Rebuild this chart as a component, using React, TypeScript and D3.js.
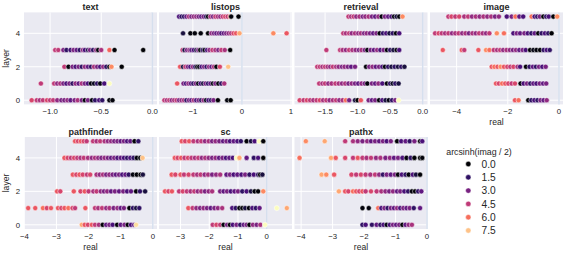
import React from "react";
import * as d3 from "d3";

const PANELS = ["text", "listops", "retrieval", "image", "pathfinder", "sc", "pathx"];
const Y_TICKS = [0, 2, 4];
const X_TICKS = [
  [-1.0, -0.5, 0.0],
  [-1, 0, 1],
  [-1.5, -1.0, -0.5, 0.0],
  [-4, -2, 0],
  [-4, -3, -2, -1, 0],
  [-3, -2, -1, 0],
  [-4, -3, -2, -1, 0],
];
const X_DECIMALS = [1, 0, 1, 0, 0, 0, 0];
const X_DOMAINS = [
  [-1.255, 0.045],
  [-1.69, 1.02],
  [-1.97, 0.074],
  [-5.04, 0.156],
  [-4.01, 0.13],
  [-3.75, 0.88],
  [-4.21, 0.016],
];
const LEGEND_VALUES = [0.0, 1.5, 3.0, 4.5, 6.0, 7.5];
const HUE_MAX = 8.6;

// rows indexed by layer (0..5); each entry [real, arcsinh(imag/2)]
const TEXT: number[][][] = [
  [[-1.18, 5.0], [-1.13, 4.5], [-1.1, 4.0], [-1.07, 4.5], [-1.03, 5.0], [-1.0, 4.5], [-0.97, 4.5], [-0.93, 3.5], [-0.89, 3.0], [-0.86, 3.0], [-0.83, 3.5], [-0.8, 2.5], [-0.76, 3.0], [-0.73, 4.0], [-0.69, 3.0], [-0.66, 0.2], [-0.63, 3.0], [-0.59, 0.2], [-0.56, 1.5], [-0.52, 2.0], [-0.49, 1.5], [-0.42, 0.2], [-0.39, 0.2]],
  [[-1.09, 4.5], [-0.96, 4.5], [-0.93, 3.5], [-0.9, 4.0], [-0.87, 3.0], [-0.84, 2.0], [-0.81, 3.0], [-0.78, 1.5], [-0.75, 3.5], [-0.72, 2.5], [-0.69, 4.0], [-0.66, 3.0], [-0.63, 2.0], [-0.6, 0.2], [-0.57, 0.5], [-0.54, 1.5], [-0.51, 0.2], [-0.47, 2.0], [-0.42, 8.6]],
  [[-0.86, 4.5], [-0.82, 0.2], [-0.78, 3.0], [-0.75, 2.0], [-0.72, 3.0], [-0.69, 1.5], [-0.66, 3.5], [-0.63, 2.5], [-0.6, 1.5], [-0.57, 4.0], [-0.54, 3.0], [-0.51, 2.0], [-0.48, 3.5], [-0.45, 1.5], [-0.42, 0.2], [-0.4, 6.5], [-0.3, 0.1]],
  [[-0.95, 4.5], [-0.92, 4.5], [-0.87, 3.0], [-0.84, 1.5], [-0.8, 1.8], [-0.77, 3.0], [-0.74, 2.5], [-0.71, 1.5], [-0.68, 3.5], [-0.66, 2.0], [-0.63, 1.2], [-0.61, 3.0], [-0.58, 1.5], [-0.55, 3.5], [-0.53, 0.2], [-0.5, 4.0], [-0.42, 5.8], [-0.37, 0.1], [-0.09, 0.1]],
  [],
  [],
];

const LISTOPS: number[][][] = [
  [[-1.58, 4.5], [-1.53, 4.0], [-1.48, 4.5], [-1.43, 3.5], [-1.38, 4.0], [-1.33, 4.5], [-1.28, 3.0], [-1.23, 3.5], [-1.18, 4.0], [-1.13, 1.5], [-1.08, 3.0], [-1.03, 2.5], [-0.98, 4.0], [-0.93, 2.0], [-0.88, 3.0], [-0.83, 1.5], [-0.78, 3.5], [-0.73, 0.5], [-0.68, 2.0], [-0.63, 1.5], [-0.58, 3.0], [-0.49, 0.1], [-0.3, 0.2], [-0.23, 0.1]],
  [[-1.32, 5.5], [-1.19, 3.0], [-1.14, 2.0], [-1.09, 3.5], [-1.04, 2.5], [-0.99, 1.5], [-0.94, 3.0], [-0.89, 0.3], [-0.84, 2.0], [-0.79, 1.0], [-0.74, 3.0], [-0.69, 1.5], [-0.64, 2.5], [-0.59, 0.3], [-0.54, 3.0], [-0.48, 0.2], [-0.42, 1.5], [-0.36, 4.0]],
  [[-1.26, 5.5], [-1.2, 1.0], [-1.15, 4.5], [-1.1, 3.0], [-1.05, 2.0], [-1.0, 3.5], [-0.95, 1.5], [-0.91, 0.2], [-0.87, 0.3], [-0.82, 2.0], [-0.77, 3.0], [-0.72, 1.5], [-0.67, 3.5], [-0.62, 2.5], [-0.57, 4.0], [-0.52, 0.2], [-0.45, 5.0], [-0.28, 7.5]],
  [[-1.21, 4.5], [-1.17, 1.0], [-1.12, 3.0], [-1.07, 3.5], [-1.03, 2.5], [-0.98, 2.0], [-0.93, 1.0], [-0.89, 3.0], [-0.85, 0.2], [-0.8, 1.5], [-0.76, 0.3], [-0.71, 2.0], [-0.66, 3.5], [-0.6, 4.5], [-0.54, 4.0], [-0.48, 3.0], [-0.42, 4.5], [-0.35, 4.0], [-0.24, 0.1]],
  [[-1.2, 1.0], [-1.05, 0.2], [-0.96, 0.2], [-0.84, 0.2], [-0.69, 0.1], [-0.62, 3.5], [-0.57, 3.0], [-0.52, 2.5], [-0.47, 3.0], [-0.42, 2.0], [-0.37, 2.5], [-0.32, 3.0], [-0.27, 3.5], [-0.22, 4.0], [-0.17, 5.0], [-0.12, 5.5], [-0.05, 7.0], [0.64, 6.5], [0.91, 5.5]],
  [[-1.28, 2.0], [-1.23, 1.5], [-1.18, 1.5], [-1.13, 2.5], [-1.08, 4.0], [-1.03, 3.0], [-0.98, 3.5], [-0.93, 3.5], [-0.88, 3.0], [-0.83, 2.5], [-0.78, 3.0], [-0.73, 1.5], [-0.69, 0.2], [-0.64, 4.0], [-0.59, 3.0], [-0.54, 4.5], [-0.49, 4.0], [-0.44, 3.5], [-0.39, 4.5], [-0.34, 5.0], [-0.29, 4.5], [-0.24, 6.0], [-0.22, 0.2], [-0.07, 0.1]],
];

const RETRIEVAL: number[][][] = [
  [[-1.89, 5.0], [-1.83, 4.5], [-1.78, 5.0], [-1.73, 4.5], [-1.68, 4.0], [-1.63, 4.5], [-1.58, 5.0], [-1.53, 4.0], [-1.48, 4.5], [-1.43, 3.5], [-1.38, 4.0], [-1.33, 4.5], [-1.28, 3.5], [-1.23, 4.0], [-1.18, 6.0], [-1.13, 3.0], [-1.04, 1.0], [-1.0, 0.1], [-0.95, 5.5], [-0.83, 3.0], [-0.78, 2.5], [-0.73, 3.0], [-0.67, 0.2], [-0.62, 2.0], [-0.57, 1.0], [-0.52, 0.3], [-0.47, 1.5], [-0.42, 3.0], [-0.37, 8.6]],
  [[-1.59, 4.5], [-1.54, 4.0], [-1.5, 4.5], [-1.45, 3.5], [-1.4, 4.0], [-1.34, 4.5], [-1.29, 4.0], [-1.24, 3.5], [-1.19, 4.0], [-1.14, 3.0], [-1.09, 3.5], [-1.04, 3.0], [-0.99, 2.5], [-0.94, 3.5], [-0.89, 3.0], [-0.85, 0.2], [-0.78, 3.0], [-0.73, 2.5], [-0.68, 3.5], [-0.62, 2.0], [-0.55, 0.2], [-0.5, 1.5], [-0.46, 0.5], [-0.42, 1.5], [-0.37, 1.0]],
  [[-1.62, 4.5], [-1.58, 4.5], [-1.54, 4.0], [-1.5, 4.5], [-1.46, 4.0], [-1.42, 3.5], [-1.38, 4.5], [-1.33, 4.0], [-1.29, 3.5], [-1.24, 3.0], [-1.2, 3.5], [-1.15, 3.0], [-1.1, 2.5], [-1.04, 3.0], [-0.87, 0.2], [-0.82, 3.0], [-0.77, 3.5], [-0.72, 2.5], [-0.67, 3.0], [-0.62, 2.0], [-0.58, 0.2], [-0.53, 1.5], [-0.48, 1.0], [-0.43, 1.5], [-0.38, 1.0], [-0.33, 1.5], [-0.28, 1.0]],
  [[-1.48, 4.5], [-1.27, 4.5], [-1.23, 4.0], [-1.18, 3.5], [-1.13, 4.5], [-1.08, 4.0], [-1.03, 3.5], [-0.98, 3.0], [-0.94, 4.0], [-0.89, 3.0], [-0.85, 0.2], [-0.8, 3.0], [-0.75, 2.5], [-0.7, 3.5], [-0.65, 2.0], [-0.6, 3.0], [-0.55, 0.2], [-0.5, 1.5], [-0.45, 1.0], [-0.4, 0.2], [-0.36, 2.0]],
  [[-1.22, 4.5], [-1.18, 4.0], [-1.13, 4.5], [-1.09, 3.5], [-1.04, 4.0], [-0.99, 3.5], [-0.95, 4.0], [-0.9, 3.0], [-0.86, 3.5], [-0.81, 3.0], [-0.76, 2.5], [-0.71, 3.0], [-0.66, 0.2], [-0.61, 1.5], [-0.56, 2.0], [-0.51, 1.0], [-0.46, 1.5], [-0.41, 0.2], [-0.36, 2.0]],
  [[-1.14, 4.5], [-1.1, 4.0], [-1.06, 4.5], [-1.02, 3.5], [-0.97, 4.0], [-0.92, 3.0], [-0.88, 3.5], [-0.83, 4.0], [-0.78, 3.0], [-0.73, 2.5], [-0.68, 3.5], [-0.63, 0.2], [-0.58, 3.0], [-0.53, 2.5], [-0.48, 2.0], [-0.44, 0.3], [-0.4, 1.0], [-0.36, 0.2], [-0.31, 6.5]],
];

const IMAGE: number[][][] = [
  [[-1.72, 5.5], [-1.58, 6.0], [-1.2, 0.1], [-1.08, 1.5], [-0.96, 2.0], [-0.84, 1.5], [-0.72, 3.0], [-0.6, 2.5], [-0.48, 3.5]],
  [[-2.46, 5.5], [-2.35, 5.0], [-2.22, 6.0], [-2.1, 5.5], [-1.98, 5.0], [-1.85, 4.5], [-1.72, 5.0], [-1.5, 0.2], [-1.38, 2.0], [-1.25, 3.0], [-1.12, 1.5], [-1.0, 2.5], [-0.88, 2.0], [-0.75, 3.0], [-0.62, 2.5], [-0.5, 3.0]],
  [[-2.63, 5.5], [-2.52, 6.0], [-2.4, 5.5], [-2.28, 6.5], [-2.15, 5.5], [-2.02, 5.0], [-1.9, 4.5], [-1.78, 5.0], [-1.62, 4.0], [-1.52, 2.0], [-1.29, 0.1], [-1.15, 1.5], [-1.02, 2.5], [-0.9, 1.5], [-0.78, 3.0], [-0.65, 2.0], [-0.52, 3.0]],
  [[-4.54, 5.5], [-3.8, 5.5], [-3.7, 4.5], [-3.15, 5.5], [-2.85, 6.5], [-2.72, 6.0], [-2.55, 4.5], [-2.42, 4.0], [-2.3, 4.5], [-2.18, 3.5], [-2.05, 4.0], [-1.92, 3.5], [-1.8, 3.0], [-1.68, 3.5], [-1.55, 2.5], [-1.42, 3.0], [-1.3, 2.0], [-1.13, 0.1], [-1.0, 0.3], [-0.88, 0.2], [-0.74, 0.1], [-0.6, 1.5], [-0.48, 2.0], [-0.36, 1.5]],
  [[-4.84, 4.5], [-4.7, 5.0], [-4.58, 4.5], [-4.45, 4.0], [-4.32, 4.5], [-4.18, 3.5], [-4.05, 4.0], [-3.92, 4.5], [-3.78, 3.5], [-3.65, 4.0], [-3.52, 3.0], [-3.38, 4.0], [-3.25, 3.5], [-3.12, 4.5], [-2.98, 4.0], [-2.85, 3.5], [-2.72, 4.5], [-2.43, 6.5], [-2.15, 6.0], [-1.78, 2.0], [-1.65, 3.0], [-1.52, 2.5], [-1.35, 3.0], [-1.22, 2.0], [-1.08, 1.5], [-0.95, 2.5], [-0.81, 0.1], [-0.68, 1.5], [-0.55, 2.0], [-0.42, 1.5], [-0.29, 0.1]],
  [[-4.32, 4.5], [-4.2, 5.0], [-4.05, 4.5], [-3.9, 5.0], [-3.7, 4.0], [-3.55, 4.5], [-3.4, 3.5], [-3.25, 4.0], [-3.1, 3.5], [-2.95, 4.0], [-2.8, 3.5], [-2.65, 4.0], [-2.5, 3.0], [-2.35, 3.5], [-2.04, 2.0], [-1.85, 3.0], [-1.7, 6.0], [-1.55, 2.5], [-1.4, 2.0], [-1.07, 6.0], [-0.95, 2.0], [-0.85, 1.5], [-0.75, 3.0], [-0.61, 0.1], [-0.5, 1.5], [-0.4, 2.0], [-0.22, 0.1], [-0.07, 6.5]],
];

const PATHFINDER: number[][][] = [
  [[-2.21, 7.0], [-2.12, 5.5], [-2.02, 5.0], [-1.9, 5.5], [-1.8, 4.5], [-1.68, 4.0], [-1.56, 0.1], [-1.45, 2.5], [-1.35, 3.0], [-1.25, 2.0], [-1.11, 0.1], [-1.0, 2.5], [-0.88, 3.0], [-0.78, 0.1], [-0.68, 2.0], [-0.58, 2.5], [-0.52, 8.0]],
  [[-3.88, 5.5], [-3.66, 5.5], [-3.42, 6.0], [-3.3, 5.0], [-3.17, 5.5], [-2.95, 5.5], [-2.85, 5.0], [-2.75, 5.5], [-2.63, 6.0], [-2.5, 5.0], [-2.42, 4.5], [-2.1, 5.5], [-1.8, 4.5], [-1.7, 4.0], [-1.58, 4.5], [-1.45, 3.5], [-1.35, 4.0], [-1.22, 3.0], [-1.1, 3.5], [-1.0, 2.5], [-0.9, 3.0], [-0.73, 0.1], [-0.62, 1.5], [-0.52, 1.0], [-0.42, 1.5]],
  [[-2.98, 5.5], [-2.88, 5.0], [-2.46, 5.5], [-2.25, 5.0], [-2.12, 5.5], [-2.0, 4.5], [-1.85, 4.0], [-1.75, 4.5], [-1.62, 3.5], [-1.52, 3.0], [-1.42, 3.5], [-1.3, 2.5], [-1.18, 3.0], [-1.05, 2.5], [-0.92, 3.0], [-0.8, 2.0], [-0.68, 2.5], [-0.52, 0.1], [-0.4, 1.5], [-0.24, 1.0]],
  [[-2.49, 5.5], [-2.38, 5.0], [-2.28, 5.5], [-2.18, 5.0], [-2.05, 4.5], [-1.95, 5.0], [-1.75, 4.0], [-1.65, 3.5], [-1.55, 4.0], [-1.45, 3.0], [-1.35, 3.5], [-1.25, 3.0], [-1.15, 2.5], [-1.05, 3.0], [-0.95, 2.0], [-0.85, 2.5], [-0.75, 1.5], [-0.62, 0.2], [-0.5, 0.1], [-0.38, 0.1], [-0.31, 1.0]],
  [[-2.75, 5.5], [-2.65, 5.0], [-2.55, 4.5], [-2.45, 5.0], [-2.35, 4.5], [-2.25, 4.0], [-2.15, 4.5], [-2.02, 4.0], [-1.9, 3.5], [-1.8, 4.0], [-1.7, 3.5], [-1.6, 3.0], [-1.5, 3.5], [-1.4, 3.0], [-1.3, 2.5], [-1.2, 3.0], [-1.1, 2.0], [-1.0, 2.5], [-0.9, 2.0], [-0.8, 1.5], [-0.7, 2.0], [-0.6, 1.5], [-0.5, 0.2], [-0.39, 0.1], [-0.32, 7.5]],
  [[-2.42, 5.5], [-2.33, 5.0], [-2.24, 5.5], [-2.15, 5.0], [-2.06, 4.5], [-1.86, 4.5], [-1.75, 4.0], [-1.64, 4.5], [-1.5, 4.0], [-1.4, 3.5], [-1.3, 3.5], [-1.2, 3.0], [-1.1, 3.0], [-1.0, 2.5], [-0.9, 3.0], [-0.8, 2.0], [-0.7, 2.5], [-0.57, 0.1], [-0.45, 1.5]],
];

const SC: number[][][] = [
  [[-1.88, 4.5], [-1.75, 5.0], [-1.62, 4.5], [-1.5, 0.2], [-1.38, 3.0], [-1.28, 0.1], [-1.18, 2.0], [-1.05, 3.0], [-0.92, 1.5], [-0.8, 2.5], [-0.7, 3.0], [-0.6, 0.1], [-0.48, 3.5], [-0.35, 3.0], [-0.22, 4.0], [-0.06, 8.6]],
  [[-2.73, 5.5], [-2.58, 4.5], [-2.45, 3.5], [-2.32, 3.0], [-2.2, 3.5], [-2.08, 3.0], [-1.95, 2.5], [-1.82, 3.0], [-1.7, 3.5], [-1.55, 4.0], [-1.2, 2.0], [-1.08, 1.5], [-0.95, 0.2], [-0.85, 0.1], [-0.75, 1.0], [-0.62, 0.2], [-0.5, 2.0], [-0.38, 1.5], [-0.25, 2.5], [0.35, 8.6], [0.7, 7.0]],
  [[-3.54, 5.5], [-3.42, 5.0], [-3.3, 5.5], [-3.05, 4.5], [-2.92, 5.0], [-2.78, 4.5], [-2.65, 4.0], [-2.52, 4.5], [-2.4, 3.5], [-2.28, 4.0], [-2.15, 3.0], [-2.02, 3.5], [-1.9, 4.0], [-1.62, 3.0], [-1.5, 2.5], [-1.38, 3.0], [-1.25, 2.0], [-1.12, 2.5], [-1.0, 3.0], [-0.85, 1.5], [-0.7, 2.0], [-0.55, 1.0], [-0.42, 0.2], [-0.3, 0.1], [-0.12, 6.5]],
  [[-3.31, 5.5], [-3.18, 5.0], [-3.0, 5.5], [-2.88, 4.5], [-2.72, 5.0], [-2.55, 4.5], [-2.42, 4.0], [-2.3, 4.5], [-2.16, 3.5], [-2.04, 4.0], [-1.9, 3.0], [-1.76, 3.5], [-1.62, 4.0], [-1.4, 2.5], [-1.28, 3.0], [-1.15, 2.0], [-1.02, 2.5], [-0.88, 2.0], [-0.75, 3.0], [-0.6, 1.5], [-0.45, 2.0], [-0.3, 1.5], [-0.23, 0.1], [-0.15, 1.0]],
  [[-3.2, 5.5], [-3.1, 5.0], [-2.98, 5.5], [-2.86, 4.5], [-2.74, 5.0], [-2.62, 4.5], [-2.5, 4.0], [-2.38, 4.5], [-2.26, 3.5], [-2.14, 4.0], [-2.02, 3.5], [-1.9, 3.0], [-1.78, 3.5], [-1.66, 2.5], [-1.54, 3.0], [-1.42, 2.0], [-1.3, 2.5], [-1.18, 2.0], [-1.05, 8.6], [-0.95, 7.0], [-0.7, 2.5], [-0.45, 1.5], [-0.3, 2.0], [-0.12, 0.1]],
  [[-2.96, 5.5], [-2.84, 5.0], [-2.7, 5.5], [-2.55, 4.5], [-2.4, 4.0], [-2.28, 4.5], [-2.15, 3.5], [-2.02, 4.0], [-1.9, 3.0], [-1.78, 3.5], [-1.65, 3.0], [-1.52, 2.5], [-1.4, 3.0], [-1.28, 2.0], [-1.15, 2.5], [-1.02, 2.0], [-0.9, 1.5], [-0.7, 0.1], [-0.55, 1.0], [-0.42, 2.0], [-0.26, 8.6], [-0.12, 0.1]],
];

const PATHX: number[][][] = [
  [[-2.05, 1.5], [-1.95, 2.0], [-1.75, 1.5], [-1.6, 2.5], [-1.48, 1.5], [-1.38, 2.0], [-1.28, 0.3], [-1.18, 2.0], [-1.08, 3.0], [-0.98, 2.5], [-0.88, 3.0], [-0.78, 0.1], [-0.68, 2.5], [-0.58, 3.5], [-0.48, 4.0]],
  [[-4.5, 6.5], [-2.05, 0.2], [-1.85, 0.2], [-1.55, 6.0], [-1.45, 2.0], [-1.35, 3.0], [-1.25, 1.5], [-1.15, 3.0], [-1.05, 2.5], [-0.95, 3.5], [-0.85, 2.0], [-0.75, 3.0], [-0.65, 2.5], [-0.55, 3.0], [-0.42, 1.5], [-0.22, 2.5]],
  [[-2.8, 7.0], [-2.6, 5.5], [-2.5, 5.0], [-2.35, 6.0], [-2.25, 5.5], [-2.15, 5.0], [-2.05, 5.5], [-1.95, 4.5], [-1.78, 5.0], [-1.6, 4.5], [-1.45, 4.0], [-1.32, 3.5], [-1.2, 3.0], [-1.08, 3.5], [-0.95, 2.5], [-0.85, 3.0], [-0.72, 2.0], [-0.6, 1.5], [-0.48, 0.2], [-0.38, 0.1], [-0.28, 1.5], [-0.18, 2.5]],
  [[-3.35, 7.0], [-3.2, 6.5], [-2.95, 5.5], [-2.4, 5.0], [-2.25, 4.5], [-2.1, 5.0], [-1.95, 4.5], [-1.8, 4.0], [-1.65, 4.5], [-1.52, 3.5], [-1.4, 1.5], [-1.28, 3.0], [-1.15, 2.5], [-1.02, 3.0], [-0.92, 0.1], [-0.8, 2.0], [-0.68, 1.5], [-0.58, 0.2], [-0.45, 2.0], [-0.35, 1.0], [-0.22, 0.1]],
  [[-4.05, 6.0], [-3.05, 7.0], [-2.9, 5.5], [-2.6, 5.0], [-2.35, 4.5], [-2.2, 5.5], [-2.05, 4.5], [-1.92, 4.0], [-1.78, 4.5], [-1.62, 3.5], [-1.48, 4.0], [-1.32, 3.0], [-1.18, 3.5], [-1.05, 2.5], [-0.92, 3.0], [-0.78, 2.0], [-0.65, 0.2], [-0.52, 1.5], [-0.4, 0.1], [-0.22, 0.1], [-0.15, 0.2]],
  [[-3.85, 6.5], [-3.25, 7.0], [-2.6, 4.5], [-2.35, 4.0], [-2.2, 3.5], [-2.05, 3.0], [-1.9, 3.5], [-1.78, 2.5], [-1.65, 3.0], [-1.52, 2.5], [-1.4, 3.0], [-1.28, 2.0], [-1.15, 3.0], [-0.95, 0.1], [-0.82, 2.0], [-0.68, 2.5], [-0.55, 1.5], [-0.4, 3.0], [-0.22, 0.1], [-0.15, 2.0]],
];

const PANEL_DATA = [TEXT, LISTOPS, RETRIEVAL, IMAGE, PATHFINDER, SC, PATHX];

const W = 568;
const H = 255;
const COL_LEFT = [24, 159, 294.5, 430];
const ROW_TOP = [12.4, 137];
const PW = 133;
const PH = 92;
const FONT = "'Liberation Sans', Arial, Helvetica, sans-serif";

const color = (v: number) => d3.interpolateMagma(Math.max(0, Math.min(1, v / HUE_MAX)));

export default function App() {
  const yScale = (row: number) =>
    d3.scaleLinear().domain([-0.25, 5.25]).range([ROW_TOP[row] + PH, ROW_TOP[row]]);

  return (
    <svg width={W} height={H} style={{ position: "absolute", left: 0, top: 0, background: "#fff" }} fontFamily={FONT}>
      {PANELS.map((name, i) => {
        const row = i < 4 ? 0 : 1;
        const col = i % 4;
        const x0 = COL_LEFT[col];
        const y0 = ROW_TOP[row];
        const x = d3.scaleLinear().domain(X_DOMAINS[i]).range([x0, x0 + PW]);
        const y = yScale(row);
        const fmt = d3.format(`.${X_DECIMALS[i]}f`);
        const showXLabel = i >= 3;
        const clipId = `clip-${i}`;
        return (
          <g key={name}>
            <defs>
              <clipPath id={clipId}>
                <rect x={x0} y={y0} width={PW} height={PH} />
              </clipPath>
            </defs>
            <rect x={x0} y={y0} width={PW} height={PH} fill="#eaeaf2" />
            {X_TICKS[i].map((t) => (
              <line key={`gx${t}`} x1={x(t)} x2={x(t)} y1={y0} y2={y0 + PH} stroke="#fff" strokeWidth={1} />
            ))}
            {Y_TICKS.map((t) => (
              <line key={`gy${t}`} x1={x0} x2={x0 + PW} y1={y(t)} y2={y(t)} stroke="#fff" strokeWidth={1} />
            ))}
            <line x1={x(0)} x2={x(0)} y1={y0} y2={y0 + PH} stroke="#d6dfee" strokeWidth={1.5} />
            <g clipPath={`url(#${clipId})`}>
              {PANEL_DATA[i].map((pts, layer) =>
                pts.map((p, k) => (
                  <circle
                    key={`${layer}-${k}`}
                    cx={x(p[0])}
                    cy={y(layer)}
                    r={2.55}
                    fill={color(p[1])}
                    stroke="#fff"
                    strokeWidth={0.5}
                  />
                ))
              )}
            </g>
            {X_TICKS[i].map((t) => (
              <text key={`tx${t}`} x={x(t)} y={y0 + PH + 10} fontSize={7.8} textAnchor="middle" fill="#262626">
                {fmt(t)}
              </text>
            ))}
            {col === 0 &&
              Y_TICKS.map((t) => (
                <text key={`ty${t}`} x={x0 - 4} y={y(t) + 2.8} fontSize={7.8} textAnchor="end" fill="#262626">
                  {t}
                </text>
              ))}
            {col === 0 && (
              <text
                transform={`translate(${x0 - 15},${y0 + PH / 2}) rotate(-90)`}
                fontSize={8.6}
                textAnchor="middle"
                fill="#262626"
              >
                layer
              </text>
            )}
            {showXLabel && (
              <text x={x0 + PW / 2} y={y0 + PH + 20.5} fontSize={8.6} textAnchor="middle" fill="#262626">
                real
              </text>
            )}
            <text x={x0 + PW / 2} y={y0 - 2.5} fontSize={9} fontWeight="bold" textAnchor="middle" fill="#262626">
              {name}
            </text>
          </g>
        );
      })}
      <g>
        <text x={479} y={154.8} fontSize={8.8} textAnchor="middle" fill="#262626">
          arcsinh(imag / 2)
        </text>
        {LEGEND_VALUES.map((v, k) => {
          const cy = 164 + k * 13.3;
          return (
            <g key={v}>
              <circle cx={468.3} cy={cy} r={2.7} fill={color(v)} stroke="#fff" strokeWidth={0.5} />
              <text x={481.5} y={cy + 3.6} fontSize={10.2} fill="#262626">
                {v.toFixed(1)}
              </text>
            </g>
          );
        })}
      </g>
    </svg>
  );
}
